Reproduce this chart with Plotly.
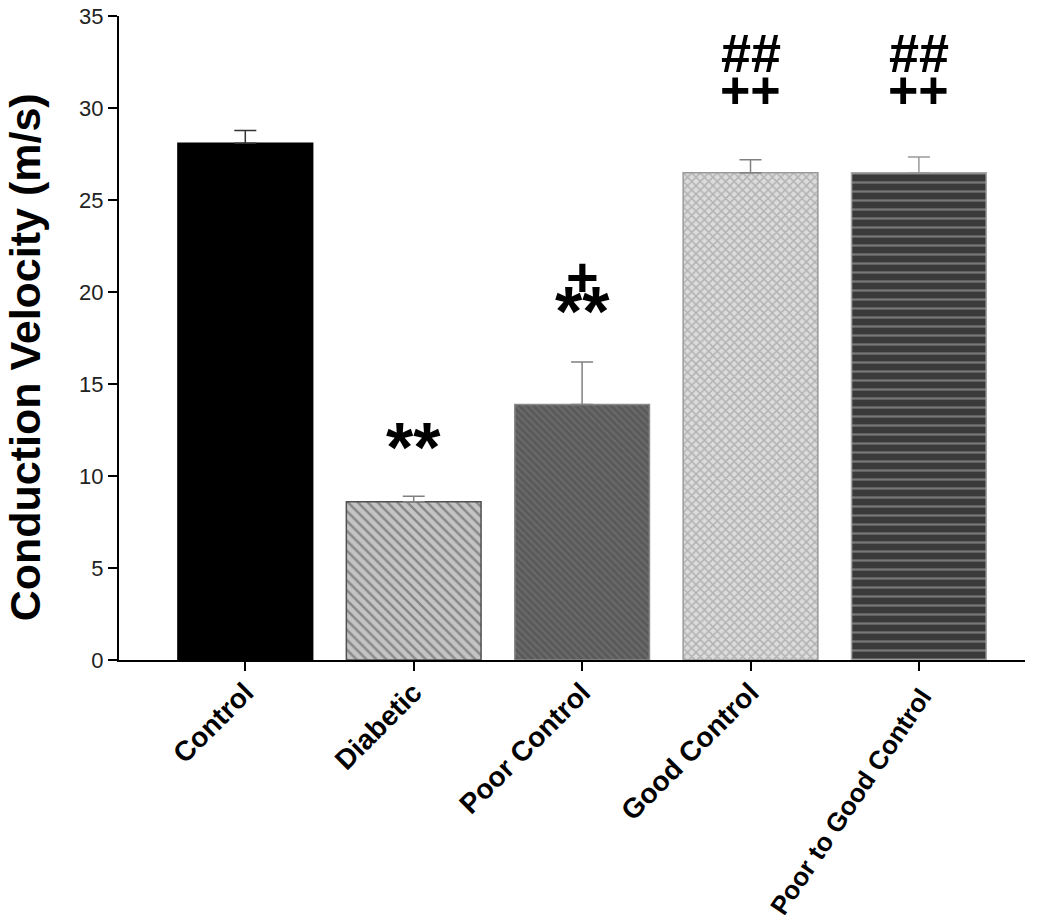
import plotly.graph_objects as go

# data
groups = ["Control", "Diabetic", "Poor Control", "Good Control", "Poor to Good Control"]
velocity = [28.1, 8.6, 13.9, 26.5, 26.5]
sem = [0.7, 0.3, 2.3, 0.7, 0.85]
marks_low = ["", "**", "**", "++", "++"]
marks_high = ["", "", "+", "##", "##"]

# look of each bar
bar_bg = ["#000000", "#c4c4c4", "#5a5a5a", "#dcdcdc", "#3a3a3a"]
bar_fg = ["#000000", "#4a4a4a", "#7c7c7c", "#8a8a8a", "#b4b4b4"]
bar_shape = ["", "\\", "\\", "x", "-"]
bar_size = [8, 7, 5, 6, 9]
bar_solid = [0.3, 0.35, 0.4, 0.45, 0.25]
bar_line = ["#000000", "#505050", "#8a8a8a", "#9a9a9a", "#a8a8a8"]
err_col = ["#333333", "#808080", "#808080", "#808080", "#9a9a9a"]

fig = go.Figure()

for i in range(len(groups)):
    fig.add_trace(go.Bar(
        x=[i],
        y=[velocity[i]],
        width=0.8,
        marker=dict(
            color=bar_bg[i],
            line=dict(color=bar_line[i], width=1.5),
            pattern=dict(shape=bar_shape[i], fgcolor=bar_fg[i], bgcolor=bar_bg[i],
                         size=bar_size[i], solidity=bar_solid[i], fillmode="overlay"),
        ),
        error_y=dict(type="data", symmetric=False, array=[sem[i]], arrayminus=[0],
                     color=err_col[i], thickness=1.5, width=11),
        showlegend=False,
    ))

# significance marks above the bars
def mark(x, y, txt, size):
    fig.add_annotation(x=x, y=y, text="<b>" + txt + "</b>", showarrow=False,
                       yanchor="middle", font=dict(family="Liberation Sans", size=size, color="black"))

for i in range(len(groups)):
    top = velocity[i] + sem[i]
    if marks_low[i] == "**":
        if marks_high[i]:
            mark(i, top + 2.75, "**", 70)
            mark(i, top + 4.68, marks_high[i], 56)
        else:
            mark(i, top + 2.63, "**", 70)
    elif marks_low[i]:
        mark(i, 31.0, marks_low[i], 52)
        mark(i, 33.0, marks_high[i], 54)

# y title as an annotation, it sits a bit below the middle of the axis
fig.add_annotation(text="<b>Conduction Velocity (m/s)</b>", textangle=-90, showarrow=False,
                   xref="paper", yref="paper", x=-0.104, y=0.4696, xanchor="center", yanchor="middle",
                   font=dict(family="Liberation Sans", size=43, color="black"))

# the last category label is drawn steeper and smaller than the others
tick_txt = ["<b>" + g + "</b>" for g in groups]
tick_txt[-1] = ""
fig.add_annotation(x=len(groups) - 1, y=0, text="<b>" + groups[-1] + "</b>", textangle=-56,
                   showarrow=False, xanchor="right", yanchor="top", xshift=22, yshift=-20,
                   font=dict(family="Liberation Sans", size=26, color="black"))

fig.update_layout(
    width=1050, height=920,
    margin=dict(l=111, r=33, t=8, b=268),
    plot_bgcolor="white", paper_bgcolor="white",
    barmode="overlay",
    font=dict(family="Liberation Sans", color="black"),
)
fig.update_xaxes(
    range=[-0.75, 4.63], automargin=False,
    tickvals=list(range(len(groups))), ticktext=tick_txt,
    tickangle=-45, tickfont=dict(size=28, color="black"), ticklabelstandoff=-6,
    showline=True, linecolor="black", linewidth=2,
    ticks="outside", ticklen=9, tickwidth=1.5, tickcolor="black",
    showgrid=False, zeroline=False,
)
fig.update_yaxes(
    range=[0, 35.02], tickvals=[0, 5, 10, 15, 20, 25, 30, 35], automargin=False,
    tickfont=dict(size=22, color="#222222"), ticklabeloverflow="allow",
    showline=True, linecolor="black", linewidth=2,
    ticks="outside", ticklen=9, tickwidth=1.5, tickcolor="black",
    showgrid=False, zeroline=False,
)

fig.write_html("out.html")
